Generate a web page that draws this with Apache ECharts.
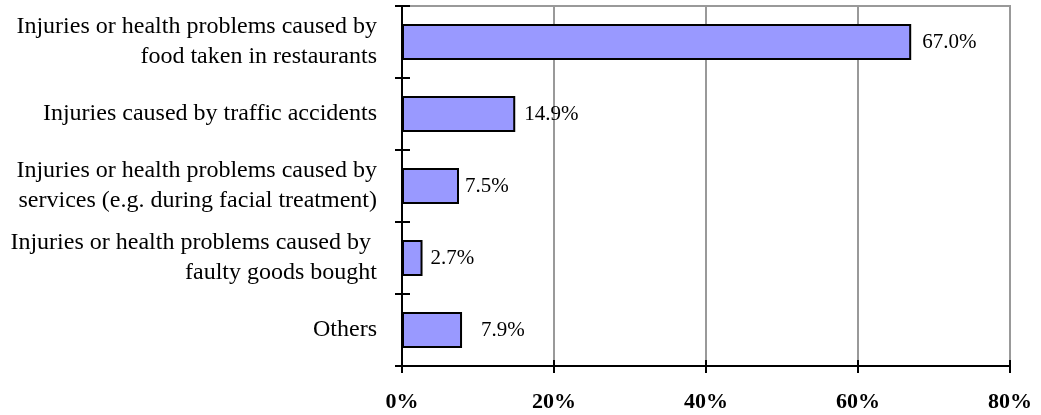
<!DOCTYPE html>
<html>
<head>
<meta charset="utf-8">
<script src="https://cdn.jsdelivr.net/npm/echarts@6/dist/echarts.min.js"></script>
<style>html,body{margin:0;padding:0;background:#fff}#c{width:1041px;height:415px}</style>
</head>
<body>
<div id="c"></div>
<script>
const categories = [
  'Injuries or health problems caused by\nfood taken in restaurants',
  'Injuries caused by traffic accidents',
  'Injuries or health problems caused by\nservices (e.g. during facial treatment)',
  'Injuries or health problems caused by \nfaulty goods bought',
  'Others'
];
const values = [67.0, 14.9, 7.5, 2.7, 7.9];
const xTicks = { min: 0, max: 80, interval: 20 };
// label gaps (style only)
const labelGaps = [11, 9, 6, 8, 19];

const FONT = '"Liberation Serif", "Times New Roman", serif';
const chart = echarts.init(document.getElementById('c'), null, { renderer: 'canvas' });
const option = {
  animation: false,
  backgroundColor: '#fff',
  grid: { left: 402, right: 31, top: 6, bottom: 49, containLabel: false,
          show: true, borderColor: '#999', borderWidth: 2, backgroundColor: 'transparent' },
  xAxis: [
    { type: 'value', min: xTicks.min, max: xTicks.max, interval: xTicks.interval, position: 'bottom',
      axisLine: { show: true, lineStyle: { color: '#000', width: 2 } },
      axisTick: { show: true, length: 7, lineStyle: { color: '#000', width: 2 } },
      axisLabel: { formatter: v => v + '%', fontFamily: FONT, fontWeight: 'bold', fontSize: 22, color: '#000', margin: 25 },
      splitLine: { show: true, lineStyle: { color: '#999', width: 2 } } },
    { type: 'value', min: xTicks.min, max: xTicks.max, interval: xTicks.interval, position: 'bottom',
      axisLine: { show: true, lineStyle: { color: '#000', width: 2 } },
      axisTick: { show: true, inside: true, length: 6, lineStyle: { color: '#000', width: 2 } },
      axisLabel: { show: false }, splitLine: { show: false } }
  ],
  yAxis: [
    { type: 'category', data: categories, inverse: true, position: 'left',
      axisLine: { show: true, lineStyle: { color: '#000', width: 2 } },
      axisTick: { show: true, length: 7, lineStyle: { color: '#000', width: 2 } },
      axisLabel: { fontFamily: FONT, fontSize: 24, lineHeight: 30, color: '#000', margin: 25, align: 'right' },
      splitLine: { show: false } },
    { type: 'category', data: categories, inverse: true, position: 'left',
      axisLine: { show: true, lineStyle: { color: '#000', width: 2 } },
      axisTick: { show: true, inside: true, length: 8, lineStyle: { color: '#000', width: 2 } },
      axisLabel: { show: false }, splitLine: { show: false } }
  ],
  series: [{
    type: 'bar', xAxisIndex: 0, yAxisIndex: 0,
    barWidth: 36,
    data: values.map((v, i) => ({ value: v, label: { distance: labelGaps[i] } })),
    itemStyle: { color: '#9999FF', borderColor: '#000', borderWidth: 2 },
    label: { show: true, position: 'right', formatter: p => p.value.toFixed(1) + '%',
             fontFamily: FONT, fontSize: 21, color: '#000' }
  }]
};
chart.setOption(option);
</script>
</body>
</html>
